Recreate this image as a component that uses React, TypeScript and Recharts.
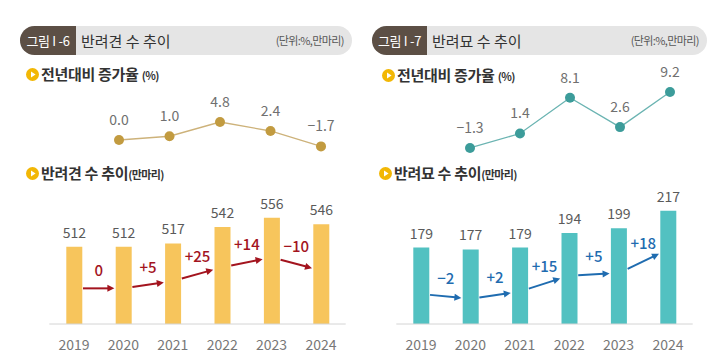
import { LineChart, Line, XAxis, YAxis, ComposedChart, Bar, LabelList } from "recharts";

const years = ["2019", "2020", "2021", "2022", "2023", "2024"];
const growthYears = ["2020", "2021", "2022", "2023", "2024"];
const dogCounts = [512, 512, 517, 542, 556, 546];
const catCounts = [179, 177, 179, 194, 199, 217];
const dogGrowth = [0.0, 1.0, 4.8, 2.4, -1.7];
const catGrowth = [-1.3, 1.4, 8.1, 2.6, 9.2];
// height of the change arrows, in the same units as the bars
const dogArrowLevel = [449, 449, 460, 481, 496, 476];
const catArrowLevel = [131, 126, 133.5, 150, 152.6, 177];

const FONT = '"Noto Sans CJK KR", "Noto Sans", sans-serif';

const fmtSigned = (v: number) => (v > 0 ? `+${v}` : v < 0 ? `−${Math.abs(v)}` : "0");
const fmtGrowth = (v: number) => (v < 0 ? `−${Math.abs(v).toFixed(1)}` : v.toFixed(1));

const makeArrowDot = (color: string) => (props: any) => {
  const { index, points, cx, cy, payload } = props;
  if (!index || !points) return <g key={`arrow-${index}`} />;
  const p = points[index - 1];
  const gap = 9;
  const slope = (cy - p.y) / (cx - p.x);
  const x1 = p.x + gap;
  const y1 = p.y + slope * gap;
  const x2 = cx - gap;
  const y2 = cy - slope * gap;
  const ang = Math.atan2(y2 - y1, x2 - x1);
  const cos = Math.cos(ang);
  const sin = Math.sin(ang);
  const head = 7;
  const half = 3.5;
  const bx = x2 - head * cos;
  const by = y2 - head * sin;
  const tri = `${x2},${y2} ${bx - half * sin},${by + half * cos} ${bx + half * sin},${by - half * cos}`;
  return (
    <g key={`arrow-${index}`}>
      <line x1={x1} y1={y1} x2={bx + cos} y2={by + sin} stroke={color} strokeWidth={2} />
      <polygon points={tri} fill={color} />
      <text
        x={(x1 + x2) / 2}
        y={(y1 + y2) / 2 - 12}
        textAnchor="middle"
        fill={color}
        fontSize={15}
        fontWeight={500}
      >
        {fmtSigned(payload.delta)}
      </text>
    </g>
  );
};

const growthLabel = (props: any) => {
  const { x, y, value, index } = props;
  return (
    <text key={`g-${index}`} x={x} y={y - 19} textAnchor="middle" dominantBaseline="middle" fill="#707070" fontSize={14}>
      {fmtGrowth(value)}
    </text>
  );
};

function Icon({ x, y }: { x: number; y: number }) {
  return (
    <svg width={13} height={13} style={{ position: "absolute", left: x - 6.5, top: y - 6.5 }}>
      <circle cx={6.5} cy={6.5} r={6.5} fill="#f2b705" />
      <polygon points="5,3.6 9.6,6.5 5,9.4" fill="#fff" />
    </svg>
  );
}

function Header({ x, width, dark, fig, title }: { x: number; width: number; dark: number; fig: string; title: string }) {
  return (
    <div
      style={{
        position: "absolute",
        left: x,
        top: 26,
        width,
        height: 29,
        borderRadius: 15,
        background: "#e5e5e5",
        overflow: "hidden",
      }}
    >
      <div
        style={{
          position: "absolute",
          left: 0,
          top: 0,
          width: dark,
          height: 29,
          background: "#5c4f45",
          color: "#fff",
          fontSize: 13,
          lineHeight: "29px",
          textAlign: "center",
          letterSpacing: -0.3,
        }}
      >
        {fig}
      </div>
      <div style={{ position: "absolute", left: dark + 5, top: 0, lineHeight: "29px", fontSize: 15, color: "#333" }}>
        {title}
      </div>
      <div
        style={{
          position: "absolute",
          right: 8,
          top: 0,
          lineHeight: "29px",
          fontSize: 11,
          color: "#555",
          letterSpacing: -0.6,
        }}
      >
        (단위:%,만마리)
      </div>
    </div>
  );
}

function SubTitle({ x, y, text, unit }: { x: number; y: number; text: string; unit: string }) {
  return (
    <>
      <Icon x={x} y={y} />
      <div
        style={{
          position: "absolute",
          left: x + 9,
          top: y - 11,
          lineHeight: "22px",
          fontSize: 15,
          fontWeight: 700,
          color: "#333",
          whiteSpace: "nowrap",
          letterSpacing: -0.3,
        }}
      >
        {text}
        <span style={{ fontSize: 11, letterSpacing: -0.6 }}>{unit}</span>
      </div>
    </>
  );
}

type PanelProps = {
  x: number;
  counts: number[];
  growth: number[];
  arrowLevel: number[];
  barColor: string;
  arrowColor: string;
  lineColor: string;
  dotColor: string;
  lineMargin: { top: number; right: number; bottom: number; left: number };
  lineDomain: [number, number];
  barMargin: { top: number; right: number; bottom: number; left: number };
  barDomain: [number, number];
};

function Panel(p: PanelProps) {
  const growthData = growthYears.map((year, i) => ({ year, growth: p.growth[i] }));
  const countData = years.map((year, i) => ({
    year,
    count: p.counts[i],
    arrow: p.arrowLevel[i],
    delta: i > 0 ? p.counts[i] - p.counts[i - 1] : 0,
  }));
  return (
    <>
      <div style={{ position: "absolute", left: p.x, top: 0 }}>
        <LineChart width={360} height={180} data={growthData} margin={p.lineMargin}>
          <XAxis dataKey="year" hide />
          <YAxis hide domain={p.lineDomain} allowDataOverflow />
          <Line
            dataKey="growth"
            stroke={p.lineColor}
            strokeWidth={1.3}
            dot={{ r: 5, fill: p.dotColor, stroke: p.dotColor, strokeWidth: 0 }}
            activeDot={false}
            isAnimationActive={false}
          >
            <LabelList dataKey="growth" content={growthLabel} />
          </Line>
        </LineChart>
      </div>
      <div style={{ position: "absolute", left: p.x, top: 160 }}>
        <ComposedChart width={360} height={204} data={countData} margin={p.barMargin}>
          <XAxis
            dataKey="year"
            height={30}
            tickLine={false}
            axisLine={{ stroke: "#d4d4d4" }}
            tick={{ fill: "#787878", fontSize: 14 }}
            tickMargin={10}
          />
          <YAxis hide domain={p.barDomain} allowDataOverflow />
          <Bar dataKey="count" fill={p.barColor} barSize={16} isAnimationActive={false}>
            <LabelList dataKey="count" position="top" offset={9} fill="#5a5a5a" fontSize={14} />
          </Bar>
          <Line
            dataKey="arrow"
            stroke="none"
            dot={makeArrowDot(p.arrowColor)}
            activeDot={false}
            isAnimationActive={false}
          />
        </ComposedChart>
      </div>
    </>
  );
}

export default function App() {
  return (
    <div
      style={{
        position: "absolute",
        left: 0,
        top: 0,
        width: 720,
        height: 364,
        background: "#fff",
        fontFamily: FONT,
        overflow: "hidden",
      }}
    >
      <Header x={20} width={332} dark={56} fig="그림 I -6" title="반려견 수 추이" />
      <Header x={372} width={335} dark={55} fig="그림 I -7" title="반려묘 수 추이" />
      <SubTitle x={32} y={74} text="전년대비 증가율 " unit="(%)" />
      <SubTitle x={388} y={75} text="전년대비 증가율 " unit="(%)" />
      <SubTitle x={32} y={173} text="반려견 수 추이" unit="(만마리)" />
      <SubTitle x={385} y={173} text="반려묘 수 추이" unit="(만마리)" />
      <Panel
        x={0}
        counts={dogCounts}
        growth={dogGrowth}
        arrowLevel={dogArrowLevel}
        barColor="#f7c55c"
        arrowColor="#a3141e"
        lineColor="#cdb27a"
        dotColor="#c29b40"
        lineMargin={{ top: 102.5, right: 39, bottom: 21.25, left: 119 }}
        lineDomain={[-5, 10]}
        barMargin={{ top: 18.8, right: 14.3, bottom: 10, left: 49.3 }}
        barDomain={[395, 615]}
      />
      <Panel
        x={360}
        counts={catCounts}
        growth={catGrowth}
        arrowLevel={catArrowLevel}
        barColor="#52c1c1"
        arrowColor="#1f6cb0"
        lineColor="#6bb4b2"
        dotColor="#3c9c9a"
        lineMargin={{ top: 77, right: 50, bottom: 12.35, left: 110 }}
        lineDomain={[-5, 12]}
        barMargin={{ top: 18.8, right: 27.3, bottom: 10, left: 36.3 }}
        barDomain={[100, 250]}
      />
    </div>
  );
}
